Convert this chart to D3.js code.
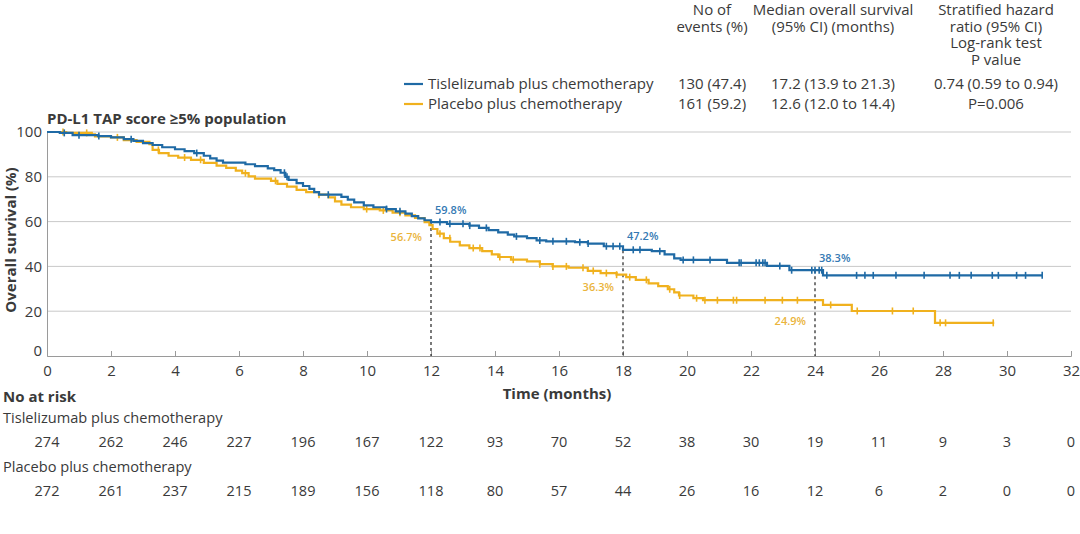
<!DOCTYPE html>
<html>
<head>
<meta charset="utf-8">
<script src="https://cdn.jsdelivr.net/npm/d3@7"></script>
<style>
  html, body { margin: 0; padding: 0; background: #fff; }
  svg { display: block; font-family: "Open Sans", "Noto Sans", sans-serif; }
</style>
</head>
<body>
<svg id="chart" width="1080" height="534"></svg>
<script>
// ---------------- DATA ----------------
const seriesNames = ["Tislelizumab plus chemotherapy", "Placebo plus chemotherapy"];
const eventsText = ["130 (47.4)", "161 (59.2)"];
const medianText = ["17.2 (13.9 to 21.3)", "12.6 (12.0 to 14.4)"];
const hazardText = ["0.74 (0.59 to 0.94)", "P=0.006"];

// Kaplan-Meier step knots: [time (months), survival (%)]
const tisleSteps = [
  [0,100],[0.4,99.6],[0.8,98.6],[1.6,98.2],[2.0,97.6],[2.4,96.8],[2.7,96.0],[3.0,95.0],[3.3,94.2],[3.6,93.2],
  [4.0,92.3],[4.3,91.5],[4.6,90.6],[4.9,89.4],[5.1,88.2],[5.3,87.2],[5.5,86.3],[6.2,85.6],[6.5,84.8],[6.9,83.8],
  [7.1,83.0],[7.3,81.8],[7.45,80.0],[7.55,78.6],[7.8,77.2],[8.0,75.9],[8.2,74.6],[8.35,73.2],[8.5,72.0],[9.2,71.0],
  [9.4,69.8],[9.6,68.6],[9.9,67.2],[10.2,66.4],[10.6,65.6],[10.9,64.6],[11.2,63.6],[11.4,62.4],[11.6,61.4],[11.8,60.6],
  [12.0,59.8],[12.5,59.0],[13.2,58.2],[13.5,57.2],[13.8,56.2],[14.1,55.2],[14.4,54.2],[14.6,53.4],[15.0,52.6],[15.3,51.6],
  [15.6,51.2],[16.5,50.8],[16.9,50.2],[17.4,49.0],[18.0,47.4],[18.9,46.8],[19.3,45.4],[19.6,43.6],[19.8,42.9],[21.25,41.6],
  [22.5,40.2],[23.2,38.3],[24.25,36.0],[31.1,36.0]
];
const placeboSteps = [
  [0,100],[0.6,99.6],[1.4,99.0],[1.5,98.0],[2.0,97.6],[2.4,96.4],[2.8,95.6],[3.2,94.6],[3.3,92.0],[3.5,90.6],
  [3.8,89.4],[4.1,88.6],[4.5,87.6],[4.9,86.2],[5.3,85.0],[5.6,84.0],[5.9,82.8],[6.1,81.6],[6.3,80.2],[6.5,79.2],
  [7.0,78.2],[7.2,76.8],[7.5,75.6],[7.8,74.2],[8.1,73.2],[8.5,72.0],[8.8,70.8],[9.0,69.0],[9.2,67.6],[9.5,66.4],
  [9.9,65.6],[10.4,65.0],[10.8,64.0],[11.2,62.8],[11.5,61.6],[11.8,59.8],[11.95,58.4],[12.05,56.7],[12.2,54.6],[12.4,52.6],
  [12.6,51.0],[12.9,49.4],[13.2,48.2],[13.6,46.8],[13.9,45.4],[14.1,44.2],[14.5,43.0],[15.0,42.2],[15.4,41.0],[15.8,40.0],
  [16.3,39.4],[16.9,38.0],[17.3,37.0],[17.8,36.3],[18.1,35.2],[18.4,34.0],[18.8,32.4],[19.1,31.2],[19.4,29.8],[19.6,28.4],
  [19.75,27.0],[20.2,25.8],[20.5,24.9],[24.25,22.8],[25.15,20.1],[27.75,14.8],[29.6,14.8]
];
// censoring times (months)
const tisleCensor = [0.54,1.0,1.62,2.63,4.68,7.42,7.5,8.79,10.61,11.03,12.28,12.59,13.0,13.21,13.73,14.67,15.4,15.81,16.23,16.65,
  16.91,17.48,17.69,17.9,18.32,18.53,19.15,19.88,20.2,20.72,21.63,21.69,22.16,22.26,22.37,22.44,22.9,23.27,23.9,24.0,24.13,24.21,
  24.37,25.3,25.56,25.82,26.53,27.41,28.22,28.51,28.88,29.54,29.73,30.3,30.58,31.1];
const placeboCensor = [0.5,1.24,2.2,3.48,4.3,4.8,6.2,7.14,8.5,9.99,10.51,11.03,12.28,12.59,13.32,13.53,14.15,14.57,15.4,15.81,
  16.23,16.75,17.07,17.48,17.8,18.21,18.73,19.46,19.77,20.3,20.56,20.95,21.45,21.55,22.44,22.98,23.45,24.49,25.32,26.42,27.07,
  27.91,28.08,29.57];

const landmarkTimes = [12, 18, 24];
const tisleLandmarks = [59.8, 47.2, 38.3];
const placeboLandmarks = [56.7, 36.3, 24.9];

const xTicks = d3.range(0, 33, 2);
const yTicks = [0, 20, 40, 60, 80, 100];
const tisleAtRisk = [274,262,246,227,196,167,122,93,70,52,38,30,19,11,9,3,0];
const placeboAtRisk = [272,261,237,215,189,156,118,80,57,44,26,16,12,6,2,0,0];

// ---------------- STYLE ----------------
const blue = "#1f6aa5", gold = "#f0b11e";
const blueText = "#3479b3", goldText = "#eab43c";
const textCol = "#3a3a3a";

const svg = d3.select("#chart");
const x = d3.scaleLinear().domain([0, 32]).range([47, 1071]);
const y = d3.scaleLinear().domain([0, 100]).range([356, 132]);

// gridlines
svg.append("g").selectAll("line").data(yTicks.filter(d => d > 0)).join("line")
  .attr("x1", x(0)).attr("x2", x(32)).attr("y1", d => y(d)).attr("y2", d => y(d))
  .attr("stroke", "#c9c9c9").attr("stroke-width", 1);

// axes
const xAxis = d3.axisBottom(x).tickValues(xTicks).tickSize(-5).tickPadding(9).tickFormat(d3.format("d"));
const gx = svg.append("g").attr("transform", `translate(0,${y(0)})`).call(xAxis);
gx.select(".domain").attr("stroke", "#9a9a9a");
gx.selectAll(".tick line").attr("stroke", "#9a9a9a");
gx.selectAll("text").attr("font-size", 15).attr("fill", textCol).attr("font-family", "Open Sans");

const yAxis = d3.axisLeft(y).tickValues(yTicks).tickSize(0).tickPadding(5);
const gy = svg.append("g").attr("transform", `translate(${x(0)},0)`).call(yAxis);
gy.select(".domain").attr("stroke", "#9a9a9a");
gy.selectAll("text").attr("font-size", 15).attr("fill", textCol).attr("font-family", "Open Sans");
gy.selectAll(".tick").filter(d => d === 0).select("text").attr("dy", "-0.05em");

// axis titles
svg.append("text").attr("x", x(16) - 2).attr("y", 399).attr("text-anchor", "middle")
  .attr("font-size", 15).attr("font-weight", 700).attr("fill", textCol).text("Time (months)");
svg.append("text").attr("transform", `translate(16,${y(50) - 4}) rotate(-90)`).attr("text-anchor", "middle")
  .attr("font-size", 15).attr("font-weight", 700).attr("fill", textCol).text("Overall survival (%)");
svg.append("text").attr("x", 47).attr("y", 124)
  .attr("font-size", 15).attr("font-weight", 700).attr("fill", textCol).text("PD-L1 TAP score ≥5% population");

// dotted landmark lines
svg.append("g").selectAll("line").data(landmarkTimes).join("line")
  .attr("x1", d => x(d)).attr("x2", d => x(d))
  .attr("y1", (d, i) => y(tisleLandmarks[i])).attr("y2", y(0))
  .attr("stroke", "#222").attr("stroke-width", 1.2).attr("stroke-dasharray", "3,3");

// curves
const line = d3.line().x(d => x(d[0])).y(d => y(d[1])).curve(d3.curveStepAfter);
function stepVal(steps, t) {
  let v = steps[0][1];
  for (const s of steps) { if (s[0] <= t) v = s[1]; else break; }
  return v;
}
function drawSeries(steps, censor, color) {
  svg.append("path").datum(steps).attr("d", line)
    .attr("fill", "none").attr("stroke", color).attr("stroke-width", 2.2);
  svg.append("g").selectAll("line").data(censor).join("line")
    .attr("x1", d => x(d)).attr("x2", d => x(d))
    .attr("y1", d => y(stepVal(steps, d)) - 3.5).attr("y2", d => y(stepVal(steps, d)) + 3.5)
    .attr("stroke", color).attr("stroke-width", 1.6);
}
drawSeries(placeboSteps, placeboCensor, gold);
drawSeries(tisleSteps, tisleCensor, blue);

// landmark labels
const blueDy = [-8, -10, -8];
svg.append("g").selectAll("text").data(landmarkTimes).join("text")
  .attr("x", d => x(d) + 4).attr("y", (d, i) => y(tisleLandmarks[i]) + blueDy[i])
  .attr("font-size", 11).attr("font-weight", 600).attr("fill", blueText)
  .text((d, i) => tisleLandmarks[i].toFixed(1) + "%");
const goldDy = [12, 16, 25];
svg.append("g").selectAll("text").data(landmarkTimes).join("text")
  .attr("x", d => x(d) - 9).attr("y", (d, i) => y(placeboLandmarks[i]) + goldDy[i])
  .attr("text-anchor", "end")
  .attr("font-size", 11).attr("font-weight", 600).attr("fill", goldText)
  .text((d, i) => placeboLandmarks[i].toFixed(1) + "%");

// header (multi-line blocks as a single text with tspans)
const hdr = svg.append("g").attr("font-size", 15).attr("fill", textCol).attr("text-anchor", "middle");
function lines(cx, arr, y0) {
  const t = hdr.append("text").attr("x", cx).attr("y", y0);
  arr.forEach((s, i) => t.append("tspan").attr("x", cx).attr("y", y0 + i * 16.5).text(s));
}
lines(712, ["No of", "events (%)"], 15);
lines(833, ["Median overall survival", "(95% CI) (months)"], 15);
lines(996, ["Stratified hazard", "ratio (95% CI)", "Log-rank test", "P value"], 15);
[blue, gold].forEach((c, i) => {
  const yy = 84 + i * 20;
  svg.append("line").attr("x1", 404).attr("x2", 423).attr("y1", yy).attr("y2", yy)
    .attr("stroke", c).attr("stroke-width", 2.2);
  svg.append("text").attr("x", 428).attr("y", yy + 5).attr("font-size", 15).attr("fill", textCol).text(seriesNames[i]);
  hdr.append("text").attr("x", 712).attr("y", yy + 5).text(eventsText[i]);
  hdr.append("text").attr("x", 833).attr("y", yy + 5).text(medianText[i]);
  hdr.append("text").attr("x", 996).attr("y", yy + 5).text(hazardText[i]);
});

// at-risk table
svg.append("text").attr("x", 3).attr("y", 402).attr("font-size", 15).attr("font-weight", 700)
  .attr("fill", textCol).text("No at risk");
svg.append("text").attr("x", 3).attr("y", 423).attr("font-size", 14.6).attr("fill", textCol).text(seriesNames[0]);
svg.append("text").attr("x", 3).attr("y", 472).attr("font-size", 14.6).attr("fill", textCol).text(seriesNames[1]);
[tisleAtRisk, placeboAtRisk].forEach((arr, k) => {
  svg.append("g").selectAll("text").data(arr).join("text")
    .attr("x", (d, i) => x(xTicks[i])).attr("y", 447 + k * 49)
    .attr("text-anchor", "middle").attr("font-size", 14.5).attr("fill", textCol).text(d => d);
});
</script>
</body>
</html>
